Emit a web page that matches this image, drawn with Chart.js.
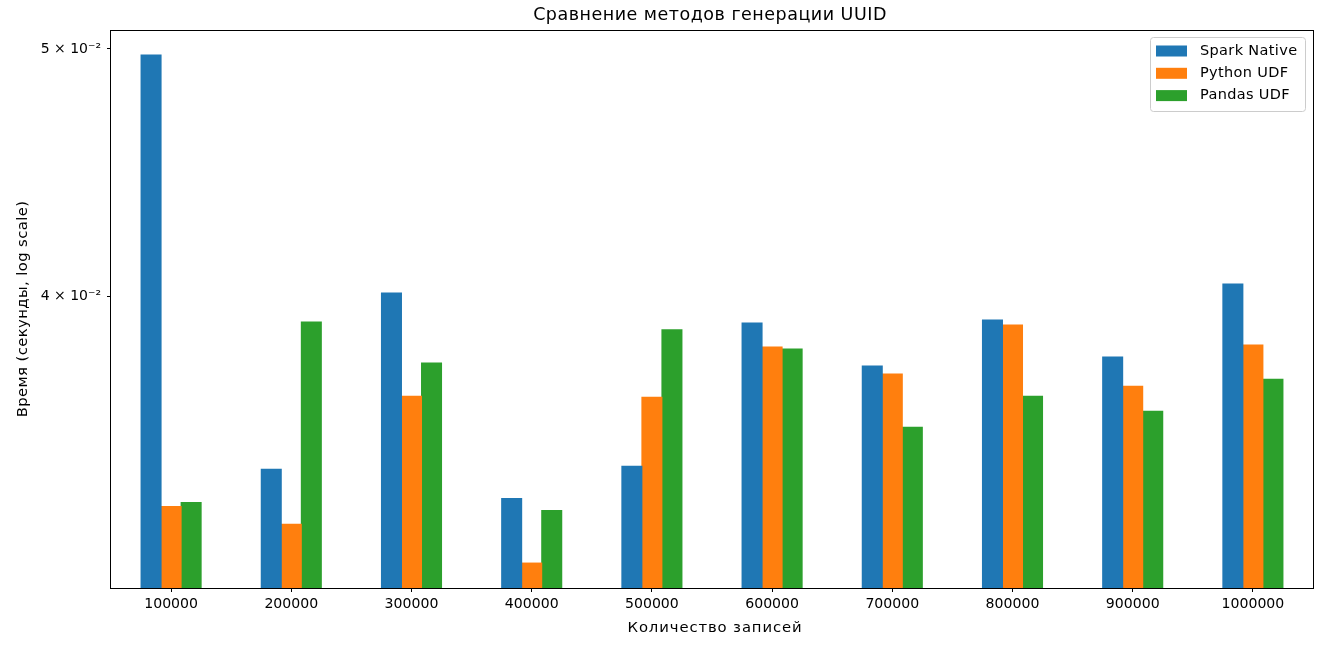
<!DOCTYPE html>
<html>
<head>
<meta charset="utf-8">
<script src="https://cdn.jsdelivr.net/npm/chart.js@4/dist/chart.umd.min.js"></script>
<style>
  html, body { margin: 0; padding: 0; background: #fff; }
  #wrap { width: 1336px; height: 646px; }
</style>
</head>
<body>
<div id="wrap"><canvas id="uuidChart" width="1336" height="646"></canvas></div>
<script>
// Данные (секунды)
const categories = ['100000', '200000', '300000', '400000', '500000', '600000', '700000', '800000', '900000', '1000000'];
const sparkNative = [0.04973, 0.03421, 0.04011, 0.03332, 0.03430, 0.03904, 0.03755, 0.03914, 0.03786, 0.04044];
const pythonUdf   = [0.03308, 0.03255, 0.03654, 0.03143, 0.03651, 0.03820, 0.03728, 0.03897, 0.03687, 0.03827];
const pandasUdf   = [0.03320, 0.03907, 0.03765, 0.03296, 0.03880, 0.03813, 0.03553, 0.03654, 0.03605, 0.03710];

const yMin = 0.03073;
const yMax = 0.05086;
const yTicks = [0.04, 0.05];
const yTickLabels = ['4 × 10⁻²', '5 × 10⁻²'];

const titleText = 'Сравнение методов генерации UUID';
const xTitle = 'Количество записей';
const yTitle = 'Время (секунды, log scale)';

const FONT = 'DejaVu Sans';

// рамка, заголовки и легенда рисуются вручную (как в matplotlib)
const mplPlugin = {
    id: 'mpl',
    afterDatasetsDraw(chart) {
        const { ctx, chartArea: a } = chart;
        ctx.save();
        ctx.strokeStyle = '#000';
        ctx.lineWidth = 1;
        ctx.strokeRect(Math.round(a.left) - 0.5, Math.round(a.top) + 0.5, Math.round(a.right - a.left) + 1, Math.round(a.bottom - a.top));
        ctx.restore();
    },
    afterDraw(chart) {
        const { ctx, chartArea: a } = chart;
        const cx = (a.left + a.right) / 2;
        ctx.save();
        ctx.fillStyle = '#000';
        ctx.textAlign = 'center';
        ctx.textBaseline = 'alphabetic';

        // заголовок
        ctx.font = '17.5px "' + FONT + '"';
        ctx.letterSpacing = '0.5px';
        ctx.fillText(titleText, cx - 2, 20);

        // подпись оси X
        ctx.font = '14.8px "' + FONT + '"';
        ctx.letterSpacing = '0.9px';
        ctx.fillText(xTitle, cx + 3, 632);

        // подпись оси Y
        ctx.letterSpacing = '0.4px';
        ctx.save();
        ctx.translate(27, (a.top + a.bottom) / 2);
        ctx.rotate(-Math.PI / 2);
        ctx.fillText(yTitle, 0, 0);
        ctx.restore();

        // легенда
        const ds = chart.data.datasets;
        const w = 155, h = 74;
        const x = a.right - 163, y = a.top + 7;
        ctx.beginPath();
        ctx.roundRect(x + 0.5, y + 0.5, w, h, 3);
        ctx.fillStyle = 'rgba(255,255,255,0.8)';
        ctx.fill();
        ctx.strokeStyle = '#cccccc';
        ctx.lineWidth = 1;
        ctx.stroke();
        ctx.font = '14.5px "' + FONT + '"';
        ctx.letterSpacing = '0.35px';
        ctx.textAlign = 'left';
        ctx.textBaseline = 'middle';
        ds.forEach((d, i) => {
            const cy = y + 14 + i * 22.3;
            ctx.fillStyle = d.backgroundColor;
            ctx.fillRect(x + 6, cy - 5.5, 31, 11);
            ctx.fillStyle = '#000';
            ctx.fillText(d.label, x + 50, cy);
        });
        ctx.restore();
    }
};

new Chart(document.getElementById('uuidChart'), {
    type: 'bar',
    data: {
        labels: categories,
        datasets: [
            { label: 'Spark Native', data: sparkNative, backgroundColor: '#1f77b4', borderWidth: 0, inflateAmount: 0.5 },
            { label: 'Python UDF', data: pythonUdf, backgroundColor: '#ff7f0e', borderWidth: 0, inflateAmount: 0.5 },
            { label: 'Pandas UDF', data: pandasUdf, backgroundColor: '#2ca02c', borderWidth: 0, inflateAmount: 0.5 }
        ]
    },
    options: {
        responsive: false,
        animation: false,
        devicePixelRatio: 1,
        categoryPercentage: 0.5,
        barPercentage: 1.0,
        layout: { padding: { top: 30, right: 23, bottom: 0, left: 0 } },
        plugins: {
            legend: { display: false },
            tooltip: { enabled: false },
            title: { display: false }
        },
        scales: {
            x: {
                grid: { display: true, drawOnChartArea: false, offset: false, tickLength: 4, color: '#000' },
                border: { display: false },
                ticks: { color: '#000', padding: 4, maxRotation: 0, font: { family: FONT, size: 14.1 } },
                afterFit(scale) { scale.height = 58; }
            },
            y: {
                type: 'logarithmic',
                min: yMin,
                max: yMax,
                afterBuildTicks(scale) { scale.ticks = yTicks.map(v => ({ value: v })); },
                grid: { display: true, drawOnChartArea: false, tickLength: 4, color: '#000' },
                border: { display: false },
                ticks: {
                    color: '#000',
                    padding: 6,
                    font: { family: FONT, size: 14 },
                    callback: (v, i) => yTickLabels[i]
                },
                afterFit(scale) { scale.width = 111; }
            }
        }
    },
    plugins: [mplPlugin]
});
</script>
</body>
</html>
